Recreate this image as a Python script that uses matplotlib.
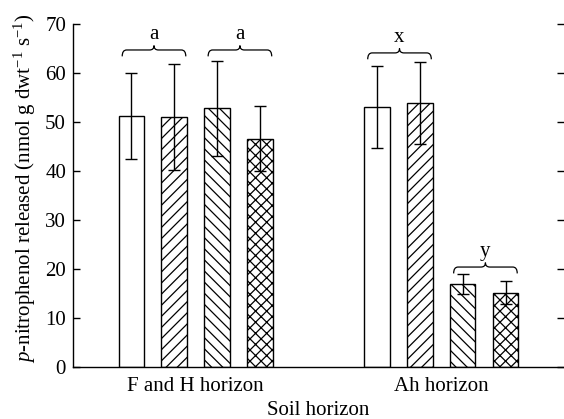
import matplotlib
matplotlib.use("Agg")
import matplotlib.pyplot as plt
import numpy as np
from matplotlib.path import Path
from matplotlib.patches import PathPatch

plt.rcParams['font.family'] = ['Liberation Serif', 'DejaVu Serif']
plt.rcParams['mathtext.fontset'] = 'custom'
plt.rcParams['mathtext.rm'] = 'Liberation Serif'
plt.rcParams['mathtext.it'] = 'Liberation Serif:italic'
plt.rcParams['hatch.linewidth'] = 0.9

# data
categories = ['F and H horizon', 'Ah horizon']
means_1 = [51.2, 53.0]
means_2 = [51.1, 53.9]
means_3 = [52.8, 16.9]
means_4 = [46.6, 15.2]
errs_1 = [8.7, 8.4]
errs_2 = [10.8, 8.3]
errs_3 = [9.7, 2.0]
errs_4 = [6.6, 2.4]

# significance braces: (group, first bar, last bar, letter, level)
brace_groups = [0, 0, 1, 1]
brace_first = [0, 2, 0, 2]
brace_last = [1, 3, 1, 3]
brace_letters = ['a', 'a', 'x', 'y']
brace_levels = [64.7, 64.7, 64.1, 20.4]

means = [means_1, means_2, means_3, means_4]
errs = [errs_1, errs_2, errs_3, errs_4]
hatches = ['', '///', '\\\\\\', 'xxx']

fig = plt.figure(figsize=(5.64, 4.19), dpi=100)
ax = fig.add_axes([0.1294, 0.1241, 0.8706, 0.8186])

x = np.arange(len(categories))
width = 0.104
offsets = [-0.2625, -0.0875, 0.0875, 0.2625]

for i in range(4):
    ax.bar(x + offsets[i], means[i], width, color='white', edgecolor='black',
           linewidth=1.0, hatch=hatches[i], zorder=2)
    ax.errorbar(x + offsets[i], means[i], yerr=errs[i], fmt='none',
                ecolor='black', elinewidth=1.0, capsize=4.5, capthick=1.0,
                zorder=3)


def draw_brace(ax, x0, x1, y, letter):
    r = 0.018
    h_end = 1.3
    h_mid = 0.9
    xm = (x0 + x1) / 2
    verts = [
        (x0, y - h_end), (x0, y), (x0 + r, y),
        (xm - r, y),
        (xm, y), (xm, y + h_mid),
        (xm, y), (xm + r, y),
        (x1 - r, y),
        (x1, y), (x1, y - h_end),
    ]
    codes = [Path.MOVETO, Path.CURVE3, Path.CURVE3,
             Path.LINETO,
             Path.CURVE3, Path.CURVE3,
             Path.CURVE3, Path.CURVE3,
             Path.LINETO,
             Path.CURVE3, Path.CURVE3]
    ax.add_patch(PathPatch(Path(verts, codes), facecolor='none',
                           edgecolor='black', linewidth=0.9, zorder=4))
    ax.text(xm, y + h_mid + 0.3, letter, ha='center', va='bottom', fontsize=15)


for g, b0, b1, letter, lvl in zip(brace_groups, brace_first, brace_last,
                                  brace_letters, brace_levels):
    x0 = x[g] + offsets[b0] - width / 2 + 0.015
    x1 = x[g] + offsets[b1] + width / 2 - 0.005
    draw_brace(ax, x0, x1, lvl, letter)

ax.set_xlim(-0.5, 1.5)
ax.set_ylim(0, 70)
ax.set_xticks(x)
ax.set_xticklabels(categories, fontsize=15)
ax.set_yticks(np.arange(0, 71, 10))
ax.tick_params(axis='x', length=0, pad=7)
ax.tick_params(axis='y', direction='in', length=5, width=1.0, labelsize=15,
               right=True, pad=5)
ax.spines['top'].set_visible(False)
ax.spines['right'].set_visible(False)
ax.spines['left'].set_linewidth(1.0)
ax.spines['bottom'].set_linewidth(1.0)

ax.set_xlabel('Soil horizon', fontsize=15, labelpad=4)
ax.set_ylabel(r'$\mathit{p}$-nitrophenol released (nmol g dwt$^{-1}$ s$^{-1}$)',
              fontsize=15)
ax.yaxis.set_label_coords(-0.071, 0.522)

fig.savefig('out.png', dpi=100)
